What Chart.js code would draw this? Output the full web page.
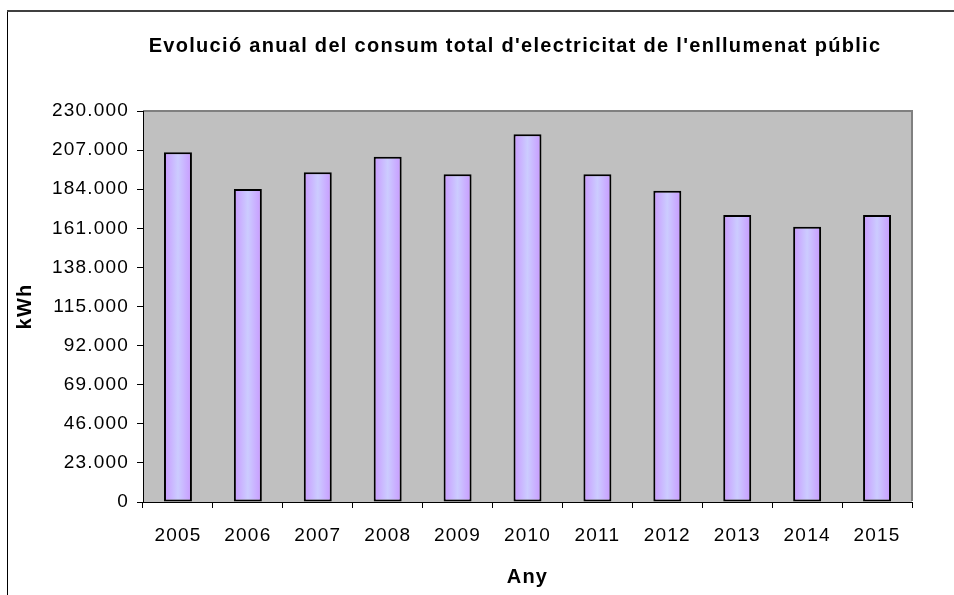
<!DOCTYPE html>
<html>
<head>
<meta charset="utf-8">
<script src="https://cdn.jsdelivr.net/npm/chart.js@4"></script>
<style>
  html, body { margin: 0; padding: 0; background: #fff; }
  canvas { display: block; }
</style>
</head>
<body>
<canvas id="consum-chart" width="954" height="595"></canvas>
<script>
const years = ['2005', '2006', '2007', '2008', '2009', '2010', '2011', '2012', '2013', '2014', '2015'];
const consum = [205700, 184100, 193900, 203100, 192800, 216300, 192800, 183100, 168800, 161900, 168800];
const yMax = 230000;
const yStep = 23000;
const chartTitle = "Evolució anual del consum total d'electricitat de l'enllumenat públic";
const FONT = '"Liberation Sans", Arial, sans-serif';

function formatThousands(v) {
    return String(v).replace(/\B(?=(\d{3})+(?!\d))/g, '.');
}

// frame + grey plot area under the bars, title on top
const excelLookPlugin = {
    id: 'excelLook',
    beforeUpdate(chart) {
        chart.ctx.letterSpacing = '1.2px';
    },
    beforeDraw(chart) {
        const ctx = chart.ctx;
        const a = chart.chartArea;
        ctx.letterSpacing = '1.2px';
        ctx.save();
        ctx.fillStyle = '#000';
        ctx.fillRect(7, 11, 1, chart.height - 11);
        ctx.fillStyle = '#404040';
        ctx.fillRect(7, 10, chart.width - 7, 2);
        ctx.fillStyle = '#c0c0c0';
        ctx.fillRect(a.left, a.top, a.right - a.left, a.bottom - a.top);
        ctx.fillStyle = '#808080';
        ctx.fillRect(a.left, a.top - 1, a.right - a.left + 1, 2);
        ctx.fillRect(a.right - 1, a.top - 1, 2, a.bottom - a.top);
        ctx.restore();
    },
    afterDraw(chart) {
        const ctx = chart.ctx;
        ctx.save();
        ctx.letterSpacing = '1.3px';
        ctx.font = 'bold 20px ' + FONT;
        ctx.fillStyle = '#000';
        ctx.textAlign = 'center';
        ctx.textBaseline = 'middle';
        ctx.fillText(chartTitle, 515, 46);
        ctx.restore();
    }
};

function barGradient(context) {
    const chart = context.chart;
    const area = chart.chartArea;
    if (!area || context.dataIndex === undefined || !chart.scales.x) {
        return '#ccccff';
    }
    const x = chart.scales.x.getPixelForValue(context.dataIndex);
    const half = (area.right - area.left) / years.length * 0.4 / 2;
    const g = chart.ctx.createLinearGradient(x - half, 0, x + half, 0);
    g.addColorStop(0, '#c899ff');
    g.addColorStop(0.5, '#ccccff');
    g.addColorStop(1, '#c899ff');
    return g;
}

new Chart(document.getElementById('consum-chart'), {
    type: 'bar',
    data: {
        labels: years,
        datasets: [{
            label: 'kWh',
            data: consum,
            backgroundColor: barGradient,
            borderColor: '#000',
            borderWidth: 2,
            borderSkipped: false,
            barPercentage: 0.4,
            categoryPercentage: 1
        }]
    },
    options: {
        responsive: false,
        animation: false,
        devicePixelRatio: 1,
        layout: { padding: { left: 0, right: 42, top: 111, bottom: 0 } },
        scales: {
            x: {
                afterFit(scale) { scale.height = 93; },
                grid: {
                    offset: true,
                    drawOnChartArea: false,
                    drawTicks: true,
                    tickLength: 6,
                    color: '#000'
                },
                border: { display: true, color: '#000', width: 1 },
                ticks: {
                    color: '#000',
                    padding: 16,
                    maxRotation: 0,
                    font: { family: FONT, size: 19 }
                },
                title: {
                    display: true,
                    text: 'Any',
                    color: '#000',
                    padding: { top: 0, bottom: 6 },
                    font: { family: FONT, size: 20, weight: 'bold' }
                }
            },
            y: {
                min: 0,
                max: yMax,
                afterFit(scale) { scale.width = 143; },
                grid: {
                    drawOnChartArea: false,
                    drawTicks: true,
                    tickLength: 6,
                    color: '#000'
                },
                border: { display: true, color: '#000', width: 1 },
                ticks: {
                    stepSize: yStep,
                    color: '#000',
                    padding: 8,
                    callback: v => formatThousands(v),
                    font: { family: FONT, size: 19 }
                },
                title: {
                    display: true,
                    text: 'kWh',
                    color: '#000',
                    padding: { top: 13, bottom: 0 },
                    font: { family: FONT, size: 20, weight: 'bold' }
                }
            }
        },
        plugins: {
            legend: { display: false },
            tooltip: { enabled: false },
            title: { display: false }
        }
    },
    plugins: [excelLookPlugin]
});
</script>
</body>
</html>
